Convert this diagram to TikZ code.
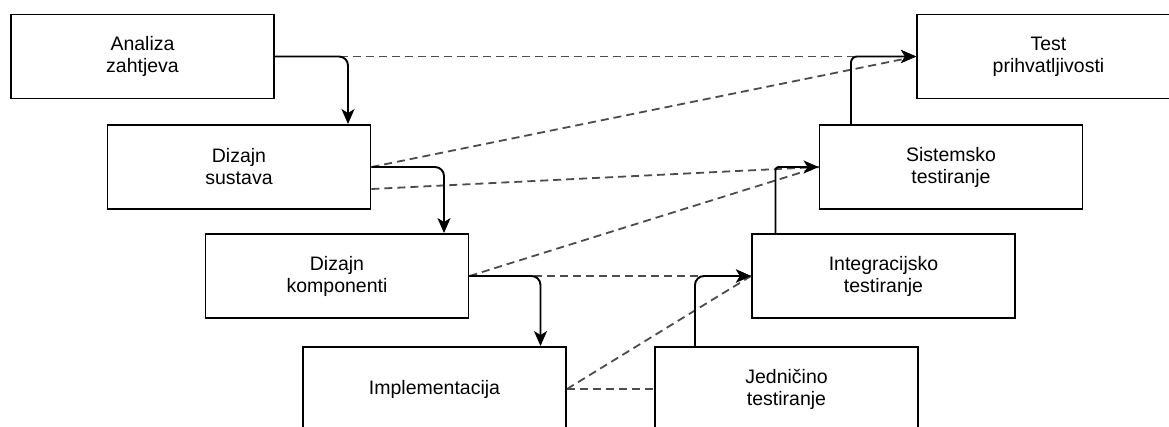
\documentclass[tikz,border=0pt]{standalone}
\usepackage{fontspec}
\setmainfont{Liberation Sans}
\usetikzlibrary{arrows.meta}

\begin{document}
\begin{tikzpicture}[
		x=1pt, y=-1pt,
		every node/.style={rectangle, draw, line width=1.9pt, minimum width=263pt, minimum height=84pt, align=center, font=\fontsize{19.5}{22}\selectfont},
		flow/.style={line width=1.9pt, rounded corners=9pt, -{Stealth[length=15pt, width=13pt, inset=4pt]}},
		link/.style={line width=1.8pt, black!70, dash pattern=on 8pt off 5pt},
		linkto/.style={link, -{Stealth[length=15pt, width=13pt, inset=4pt, black]}}
	]
  \useasboundingbox (0,0) rectangle (1169,426);
  \node (analiza) at (142.5, 56.5) {Analiza\\zahtjeva};
  \node (sustav) at (239, 167) {Dizajn\\sustava};
  \node (komp) at (337, 276) {Dizajn\\komponenti};
  \node (impl) at (434.5, 389) {Implementacija};
  \node (jedn) at (786.5, 389) {Jedničino\\testiranje};
  \node (integ) at (883.5, 276) {Integracijsko\\testiranje};
  \node (sistem) at (951, 167) {Sistemsko\\testiranje};
  \node (prihvat) at (1048.5, 56.5) {Test\\prihvatljivosti};
  \draw [linkto] (analiza.east) -- (prihvat.west);
  \draw [link] (sustav.east) -- (prihvat.west);
  \draw [link] ([yshift=-22pt]sustav.east) -- (sistem.west);
  \draw [link] (komp.east) -- (sistem.west);
  \draw [linkto] (komp.east) -- (integ.west);
  \draw [link] (impl.east) -- (integ.west);
  \draw [link] (impl.east) -- (jedn.west);
  \draw [flow] (analiza.east) -| ([xshift=109pt]sustav.north);
  \draw [flow] (sustav.east) -| ([xshift=107pt]komp.north);
  \draw [flow] (komp.east) -| ([xshift=106pt]impl.north);
  \draw [flow] ([xshift=-91.5pt]jedn.north) |- (integ.west);
  \draw [flow, rounded corners=3pt] ([xshift=-108pt]integ.north) |- (sistem.west);
  \draw [flow, rounded corners=6pt] ([xshift=-100pt]sistem.north) |- (prihvat.west);
\end{tikzpicture}
\end{document}
